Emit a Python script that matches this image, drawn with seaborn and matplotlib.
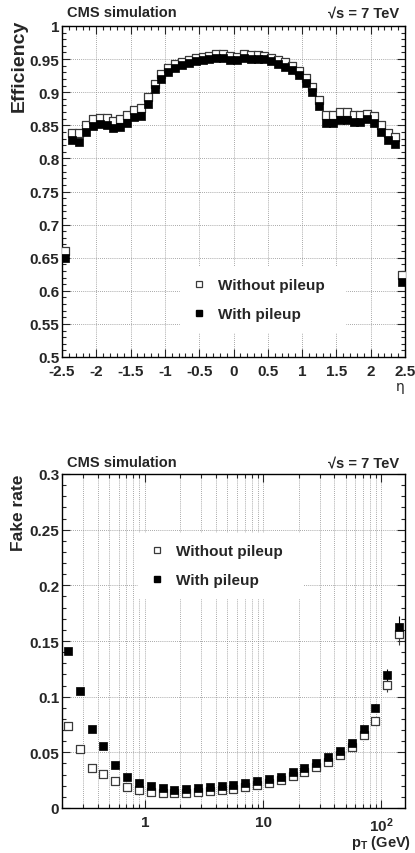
import numpy as np
import pandas as pd
import matplotlib
matplotlib.use("Agg")
import matplotlib.pyplot as plt
import seaborn as sns
from matplotlib.ticker import MultipleLocator, FixedLocator, NullFormatter, LogLocator
from matplotlib.lines import Line2D

# ---------------- data ----------------
eta = [-2.45, -2.35, -2.25, -2.15, -2.05, -1.95, -1.85, -1.75, -1.65, -1.55,
       -1.45, -1.35, -1.25, -1.15, -1.05, -0.95, -0.85, -0.75, -0.65, -0.55,
       -0.45, -0.35, -0.25, -0.15, -0.05, 0.05, 0.15, 0.25, 0.35, 0.45,
       0.55, 0.65, 0.75, 0.85, 0.95, 1.05, 1.15, 1.25, 1.35, 1.45,
       1.55, 1.65, 1.75, 1.85, 1.95, 2.05, 2.15, 2.25, 2.35, 2.45]
eff_nopu = [0.660, 0.838, 0.838, 0.850, 0.859, 0.8615, 0.8605, 0.8565, 0.859, 0.8655,
            0.873, 0.8755, 0.8925, 0.913, 0.927, 0.9365, 0.942, 0.946, 0.949, 0.951,
            0.9525, 0.9545, 0.957, 0.957, 0.955, 0.9535, 0.957, 0.956, 0.956, 0.9545,
            0.952, 0.948, 0.945, 0.9395, 0.932, 0.922, 0.9085, 0.8885, 0.866, 0.865,
            0.870, 0.870, 0.866, 0.866, 0.867, 0.8635, 0.850, 0.8385, 0.8325, 0.624]
eff_pu = [0.650, 0.8275, 0.8255, 0.840, 0.849, 0.8515, 0.8505, 0.8455, 0.8475, 0.854,
          0.8625, 0.8635, 0.8825, 0.9055, 0.920, 0.930, 0.937, 0.941, 0.9445, 0.947,
          0.9485, 0.950, 0.952, 0.952, 0.9485, 0.948, 0.951, 0.950, 0.9495, 0.9495,
          0.947, 0.943, 0.9385, 0.9335, 0.926, 0.9145, 0.900, 0.8785, 0.8535, 0.853,
          0.8585, 0.8585, 0.8545, 0.8555, 0.8595, 0.8535, 0.8405, 0.8275, 0.8225, 0.614]

pt = [0.224, 0.282, 0.355, 0.447, 0.562, 0.708, 0.891, 1.122, 1.413, 1.778,
      2.239, 2.818, 3.548, 4.467, 5.623, 7.079, 8.913, 11.22, 14.13, 17.78,
      22.39, 28.18, 35.48, 44.67, 56.23, 70.79, 89.13, 112.2, 141.3]
fake_nopu = [0.0737, 0.0527, 0.0362, 0.0305, 0.0240, 0.0186, 0.0159, 0.0141, 0.0138, 0.0135,
             0.0135, 0.0141, 0.0150, 0.0159, 0.0171, 0.0186, 0.0204, 0.0228, 0.0251, 0.0287,
             0.0323, 0.0371, 0.0413, 0.0473, 0.0548, 0.0659, 0.0778, 0.1102, 0.1560]
fake_pu = [0.1410, 0.1050, 0.0707, 0.0554, 0.0389, 0.0281, 0.0225, 0.0195, 0.0177, 0.0165,
           0.0168, 0.0177, 0.0186, 0.0198, 0.0210, 0.0225, 0.0240, 0.0263, 0.0278, 0.0320,
           0.0359, 0.0401, 0.0458, 0.0512, 0.0584, 0.0713, 0.0901, 0.1192, 0.1623]
fake_err = [0.002, 0.002, 0.001, 0.001, 0.001, 0.001, 0.001, 0.001, 0.001, 0.001,
            0.001, 0.001, 0.001, 0.001, 0.001, 0.001, 0.001, 0.001, 0.001, 0.001,
            0.001, 0.001, 0.001, 0.001, 0.0015, 0.002, 0.003, 0.006, 0.010]

labels = ["Without pileup", "With pileup"]

# ---------------- style ----------------
sns.set_style("ticks")
plt.rcParams["font.family"] = ["Liberation Sans", "DejaVu Sans"]
plt.rcParams["font.weight"] = "bold"
plt.rcParams["mathtext.fontset"] = "custom"
plt.rcParams["mathtext.bf"] = "Liberation Sans:bold"
plt.rcParams["mathtext.rm"] = "Liberation Sans"

W, H = 415, 854
fig = plt.figure(figsize=(W / 100, H / 100), dpi=100)
ax1 = fig.add_axes([62 / W, 1 - 358 / H, 343 / W, 331 / H])
ax2 = fig.add_axes([62 / W, 1 - 809 / H, 343 / W, 334 / H])

open_kw = dict(marker="s", s=27, facecolor="white", edgecolor="#3a3a3a", linewidth=0.9, zorder=3)
fill_kw = dict(marker="s", s=29, color="black", edgecolor="black", linewidth=0.5, zorder=4)

df_eff = pd.DataFrame({"eta": eta, "nopu": eff_nopu, "pu": eff_pu})
sns.scatterplot(data=df_eff, x="eta", y="nopu", ax=ax1, legend=False, **open_kw)
sns.scatterplot(data=df_eff, x="eta", y="pu", ax=ax1, legend=False, **fill_kw)

df_fake = pd.DataFrame({"pt": pt, "nopu": fake_nopu, "pu": fake_pu, "err": fake_err})
ax2.errorbar(df_fake["pt"], df_fake["nopu"], yerr=df_fake["err"], fmt="none",
             ecolor="#3a3a3a", elinewidth=0.8, zorder=2)
ax2.errorbar(df_fake["pt"], df_fake["pu"], yerr=df_fake["err"], fmt="none",
             ecolor="black", elinewidth=0.8, zorder=2)
sns.scatterplot(data=df_fake, x="pt", y="nopu", ax=ax2, legend=False, **open_kw)
sns.scatterplot(data=df_fake, x="pt", y="pu", ax=ax2, legend=False, **fill_kw)

grid_kw = dict(linestyle=(0, (1, 1.5)), color="#8c8c8c", linewidth=0.6)

# top axes
ax1.set_xlim(-2.5, 2.5)
ax1.set_ylim(0.5, 1.0)
ax1.xaxis.set_major_locator(MultipleLocator(0.5))
ax1.xaxis.set_minor_locator(MultipleLocator(0.1))
ax1.yaxis.set_major_locator(MultipleLocator(0.05))
ax1.yaxis.set_minor_locator(MultipleLocator(0.01))
ax1.set_xticklabels([f"{v:g}" for v in ax1.get_xticks()])
ax1.set_yticklabels([f"{v:g}" for v in ax1.get_yticks()])
ax1.grid(True, which="major", **grid_kw)

# bottom axes
ax2.set_xscale("log")
ax2.set_xlim(10 ** -0.7, 10 ** 2.2)
ax2.set_ylim(0, 0.3)
ax2.xaxis.set_major_locator(FixedLocator([1, 10, 100]))
ax2.set_xticklabels(["1", "10", r"$\mathbf{10^{2}}$"])
ax2.xaxis.set_minor_locator(LogLocator(base=10, subs=np.arange(2, 10), numticks=20))
ax2.xaxis.set_minor_formatter(NullFormatter())
ax2.yaxis.set_major_locator(MultipleLocator(0.05))
ax2.yaxis.set_minor_locator(MultipleLocator(0.01))
ax2.set_yticklabels([f"{v:g}" for v in ax2.get_yticks()])
ax2.grid(True, which="major", **grid_kw)
ax2.grid(True, which="minor", axis="x", **grid_kw)

for ax in (ax1, ax2):
    ax.set_xlabel("")
    ax.set_ylabel("")
    for sp in ax.spines.values():
        sp.set_linewidth(1.0)
        sp.set_color("black")
        sp.set_visible(True)
    ax.tick_params(which="both", direction="in", top=True, right=True, width=0.8)
    ax.tick_params(which="major", length=5.5, labelsize=11, pad=2)
    ax.tick_params(which="minor", length=2.8)
    ax.tick_params(axis="x", which="major", pad=5)
    for t in ax.get_xticklabels() + ax.get_yticklabels():
        t.set_fontweight("bold")
    ax.set_axisbelow(True)

# axis titles
fig.text(19 / W, 1 - 20 / H, "Efficiency", rotation=90, ha="center", va="top",
         fontsize=14, fontweight="bold")
fig.text(19 / W, 1 - 475 / H, "Fake rate", rotation=90, ha="center", va="top",
         fontsize=12.5, fontweight="bold")
fig.text(400 / W, 1 - 387 / H, "\u03b7", ha="center", va="center", fontsize=10,
         fontweight="normal", family=["DejaVu Sans"])
fig.text(411 / W, 1 - 843 / H, r"$\mathbf{p_{T}}$ (GeV)", ha="right", va="center",
         fontsize=10.5, fontweight="bold")

# headers
for ytop in (13, 463):
    fig.text(67 / W, 1 - ytop / H, "CMS simulation", ha="left", va="center",
             fontsize=10.5, fontweight="bold")
    fig.text(399 / W, 1 - ytop / H, "\u221as = 7 TeV", ha="right", va="center",
             fontsize=10.5, fontweight="bold")

# legends
handles = [Line2D([], [], marker="s", ls="none", markersize=5, markerfacecolor="white",
                  markeredgecolor="#3a3a3a", markeredgewidth=0.9),
           Line2D([], [], marker="s", ls="none", markersize=5, color="black")]
leg_kw = dict(frameon=True, fancybox=False, edgecolor="white", facecolor="white",
              framealpha=1.0, prop=dict(weight="bold", size=11), labelspacing=1.0,
              handletextpad=0.6, handlelength=1.2, borderpad=0.7, mode="expand")
leg1 = ax1.legend(handles, labels, loc="center",
                  bbox_to_anchor=((172 - 62) / 343, (358 - 333) / 331, 181 / 343, 65 / 331),
                  **leg_kw)
leg2 = ax2.legend(handles, labels, loc="center",
                  bbox_to_anchor=((130 - 62) / 343, (809 - 598) / 334, 180 / 343, 63 / 334),
                  **leg_kw)
for lg in (leg1, leg2):
    lg.set_zorder(5)

fig.savefig("out.png", dpi=100)
